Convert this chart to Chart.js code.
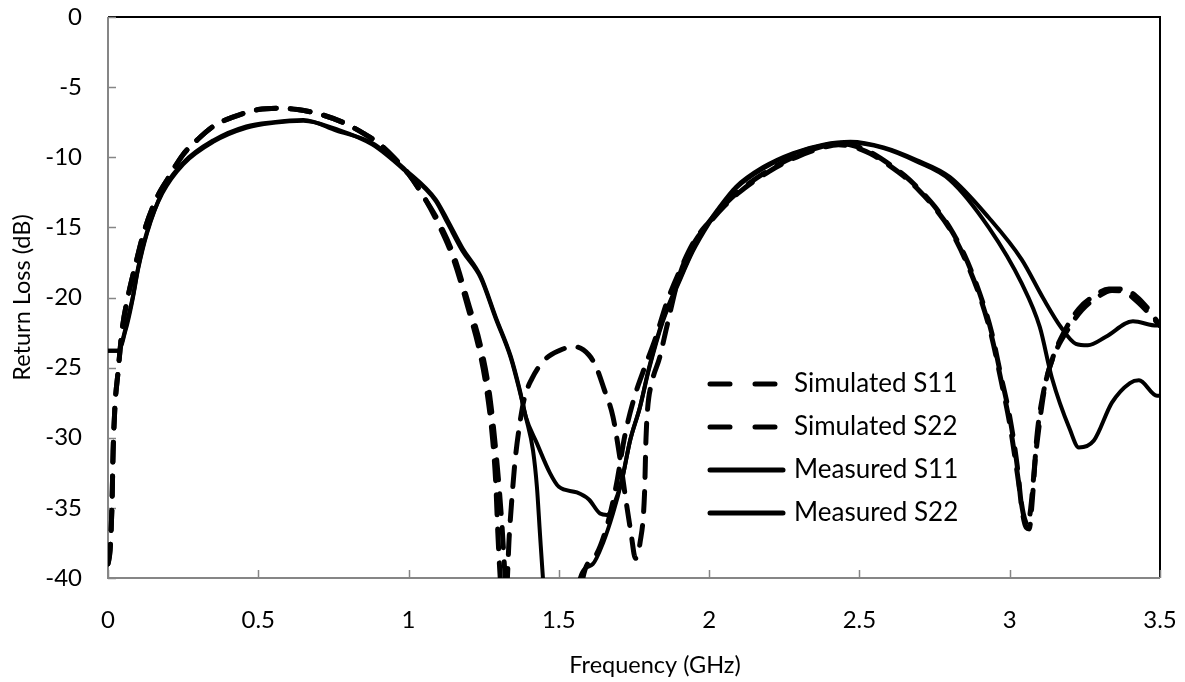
<!DOCTYPE html>
<html>
<head>
<meta charset="utf-8">
<script src="https://cdn.jsdelivr.net/npm/chart.js@4.4.1/dist/chart.umd.min.js"></script>
<style>
  html, body { margin: 0; padding: 0; background: #fff; }
  #wrap { width: 1185px; height: 682px; }
</style>
</head>
<body>
<div id="wrap"><canvas id="rlChart" width="1185" height="682"></canvas></div>
<script>
// ---------------------------- Data ----------------------------------------
const seriesLabels = ['Simulated S11', 'Simulated S22', 'Measured S11', 'Measured S22']
const xTitle = 'Frequency (GHz)'
const yTitle = 'Return Loss (dB)'
const xTicks = [0, 0.5, 1, 1.5, 2, 2.5, 3, 3.5]
const yTicks = [0, -5, -10, -15, -20, -25, -30, -35, -40]

const simS11Freq = [0, 0.007, 0.013, 0.017, 0.023, 0.033, 0.047, 0.066, 0.09, 0.12, 0.16, 0.2, 0.25, 0.3, 0.35, 0.42, 0.5, 0.57, 0.63, 0.7, 0.78, 0.85, 0.9, 0.95, 1.0, 1.05, 1.1, 1.15, 1.2, 1.24, 1.26, 1.28, 1.29, 1.297, 1.305, 1.33, 1.45, 1.55, 1.58, 1.62, 1.66, 1.69, 1.72, 1.75, 1.78, 1.82, 1.86, 1.9, 1.95, 2.0, 2.05, 2.1, 2.2, 2.3, 2.38, 2.43, 2.5, 2.55, 2.6, 2.65, 2.7, 2.75, 2.8, 2.85, 2.9, 2.94, 2.97, 3.0, 3.025, 3.04, 3.055, 3.065, 3.075, 3.09, 3.11, 3.14, 3.18, 3.23, 3.28, 3.33, 3.38, 3.42, 3.46, 3.5]
const simS11Loss = [-39, -38, -35, -31, -27.8, -25.4, -22.3, -20, -17.8, -15.3, -13, -11.5, -9.8, -8.7, -7.8, -7.1, -6.6, -6.5, -6.6, -6.9, -7.5, -8.3, -9, -10, -11.2, -12.8, -14.8, -17.3, -20.9, -24.2, -26.6, -30.2, -33.2, -36.8, -40, -46, -52, -48, -40, -38.5, -36.3, -33.5, -29.8, -27.2, -25.3, -23, -20.3, -18.2, -16, -14.6, -13.4, -12.4, -10.9, -9.8, -9.2, -9.0, -9.3, -9.8, -10.5, -11.3, -12.3, -13.5, -15, -17, -19.7, -22.5, -25.5, -28.5, -32, -35, -36.4, -36.5, -34.5, -30, -27, -24.5, -22.5, -20.8, -19.9, -19.4, -19.4, -19.9, -20.8, -22]

const simS22Freq = [0, 0.007, 0.013, 0.017, 0.023, 0.033, 0.047, 0.066, 0.09, 0.12, 0.16, 0.2, 0.25, 0.3, 0.35, 0.42, 0.5, 0.57, 0.63, 0.7, 0.78, 0.85, 0.9, 0.95, 1.0, 1.05, 1.1, 1.15, 1.2, 1.24, 1.27, 1.295, 1.31, 1.32, 1.325, 1.335, 1.345, 1.355, 1.37, 1.385, 1.41, 1.45, 1.5, 1.55, 1.6, 1.625, 1.65, 1.68, 1.7, 1.72, 1.74, 1.755, 1.77, 1.785, 1.79, 1.795, 1.81, 1.835, 1.86, 1.9, 1.95, 2.0, 2.05, 2.1, 2.2, 2.3, 2.38, 2.43, 2.5, 2.55, 2.6, 2.65, 2.7, 2.75, 2.8, 2.85, 2.9, 2.94, 2.97, 3.0, 3.025, 3.045, 3.06, 3.07, 3.085, 3.1, 3.12, 3.15, 3.19, 3.24, 3.29, 3.34, 3.38, 3.43, 3.47, 3.5]
const simS22Loss = [-39, -38, -35, -31, -27.8, -25.4, -22.3, -20, -17.8, -15.3, -13, -11.5, -9.8, -8.7, -7.8, -7.1, -6.6, -6.5, -6.6, -6.9, -7.5, -8.3, -9, -10, -11.2, -12.8, -14.6, -17, -20.5, -23.5, -27, -32, -36, -39.5, -41, -37, -34, -31.5, -29, -27.2, -25.8, -24.5, -23.8, -23.5, -24.1, -25, -26.5, -28.5, -31, -34, -36.8, -38.6, -37.5, -34, -30, -28, -26, -24.3, -22, -18.5, -16.1, -14.7, -13.5, -12.5, -11, -9.9, -9.3, -9.1, -9.4, -9.9, -10.6, -11.4, -12.4, -13.6, -15.1, -17.2, -19.9, -22.8, -25.8, -29, -32.5, -35.4, -36.2, -35, -31.5, -28.8, -26, -24, -22.4, -20.9, -20, -19.5, -19.6, -20.4, -21.3, -22]

const measS11Freq = [0, 0.035, 0.045, 0.055, 0.065, 0.083, 0.1, 0.13, 0.18, 0.25, 0.35, 0.46, 0.55, 0.65, 0.76, 0.88, 0.99, 1.09, 1.13, 1.18, 1.24, 1.29, 1.34, 1.37, 1.39, 1.427, 1.47, 1.5, 1.56, 1.6, 1.637, 1.66, 1.68, 1.71, 1.737, 1.77, 1.8, 1.846, 1.9, 1.946, 2.0, 2.026, 2.09, 2.18, 2.28, 2.38, 2.47, 2.58, 2.69, 2.8, 2.93, 3.04, 3.11, 3.17, 3.22, 3.26, 3.32, 3.41, 3.49, 3.5]
const measS11Loss = [-23.8, -23.8, -23.4, -22.6, -21.8, -20, -18, -15.4, -12.5, -10.4, -8.8, -7.8, -7.5, -7.35, -8.1, -9, -10.9, -13, -14.5, -16.5, -18.5, -21.4, -24.2, -26.6, -28.5, -30.4, -32.5, -33.5, -33.9, -34.4, -35.4, -35.5, -34.9, -33, -30.2, -27.8, -25, -21.6, -18.8, -16.6, -14.6, -13.8, -12.1, -10.7, -9.7, -9.1, -8.9, -9.3, -10.2, -11.4, -14.3, -17.3, -20, -22.1, -23.3, -23.4, -22.8, -21.7, -22, -22]

const measS22Freq = [0, 0.035, 0.045, 0.055, 0.065, 0.083, 0.1, 0.13, 0.18, 0.25, 0.35, 0.46, 0.55, 0.65, 0.76, 0.88, 0.99, 1.09, 1.13, 1.18, 1.24, 1.29, 1.34, 1.37, 1.39, 1.414, 1.427, 1.437, 1.447, 1.47, 1.51, 1.55, 1.57, 1.613, 1.647, 1.68, 1.71, 1.737, 1.77, 1.8, 1.846, 1.9, 1.946, 2.0, 2.026, 2.09, 2.18, 2.28, 2.38, 2.47, 2.58, 2.69, 2.8, 2.93, 3.04, 3.1, 3.14, 3.2, 3.23, 3.28, 3.34, 3.4, 3.43, 3.49, 3.5]
const measS22Loss = [-23.8, -23.8, -23.3, -22.5, -21.6, -19.9, -17.9, -15.3, -12.6, -10.5, -8.9, -7.9, -7.55, -7.4, -8.0, -9.1, -11, -13.1, -14.7, -16.7, -18.6, -21.5, -24.3, -26.7, -28.5, -30.9, -33.5, -36.8, -40, -46, -48, -44, -40, -39, -37.5, -35.4, -33, -30.2, -27.8, -25.1, -21.7, -18.9, -16.7, -14.7, -13.9, -12.2, -10.8, -9.75, -9.15, -8.95, -9.35, -10.3, -11.6, -15, -19, -22.1, -25.7, -29.4, -30.7, -30.2, -27.5, -26.1, -25.9, -27, -27]

// ---------------------------- Style ---------------------------------------
const fontFamily = 'Lato, "Liberation Sans", sans-serif'
const tickFont = { family: fontFamily, size: 24 }
const titleFont = { family: fontFamily, size: 23.5 }
const legendFontSize = 26
const axisGrey = '#868686'
const dashPattern = [20, 14]

const toPoints = (freq, loss) => freq.map((f, i) => ({ x: f, y: loss[i] }))

const makeSet = (label, freq, loss, dashed) => ({
  label: label,
  data: toPoints(freq, loss),
  borderColor: '#000',
  backgroundColor: '#000',
  borderWidth: dashed ? 5 : 4,
  borderDash: dashed ? dashPattern : [],
  borderCapStyle: 'round',
  borderJoinStyle: 'round',
  pointRadius: 0,
  fill: false,
  cubicInterpolationMode: 'monotone'
})

// -------------------- Frame, inward ticks, legend -------------------------
const framePlugin = {
  id: 'frame',
  beforeDatasetsDraw(chart) {
    const { ctx, chartArea: a, scales } = chart
    ctx.save()
    ctx.lineWidth = 2
    ctx.strokeStyle = '#000'
    ctx.beginPath()
    ctx.moveTo(a.left, a.top)
    ctx.lineTo(a.right, a.top)
    ctx.lineTo(a.right, a.bottom)
    ctx.stroke()

    ctx.strokeStyle = axisGrey
    ctx.beginPath()
    ctx.moveTo(a.left, a.top)
    ctx.lineTo(a.left, a.bottom)
    ctx.lineTo(a.right, a.bottom)
    ctx.stroke()

    ctx.lineWidth = 1.5
    ctx.beginPath()
    yTicks.forEach(v => {
      const y = Math.round(scales.y.getPixelForValue(v)) + 0.5
      ctx.moveTo(a.left, y)
      ctx.lineTo(a.left + 8, y)
    })
    xTicks.forEach(v => {
      const x = Math.round(scales.x.getPixelForValue(v)) + 0.5
      ctx.moveTo(x, a.bottom)
      ctx.lineTo(x, a.bottom - 8)
    })
    ctx.stroke()

    // x-axis title sits a little right of the plot centre, as in the source
    ctx.font = titleFont.size + 'px ' + fontFamily
    ctx.fillStyle = '#000'
    ctx.textAlign = 'center'
    ctx.textBaseline = 'middle'
    ctx.fillText(xTitle, (a.left + a.right) / 2 + 21, 665)
    ctx.restore()
  }
}

const legendBox = { left: 708, top: 384, rowGap: 43, lineLen: 77, textGap: 9 }

const legendPlugin = {
  id: 'sideLegend',
  afterDraw(chart) {
    const { ctx } = chart
    ctx.save()
    ctx.font = legendFontSize + 'px ' + fontFamily
    ctx.textBaseline = 'middle'
    ctx.fillStyle = '#000'
    chart.data.datasets.forEach((ds, i) => {
      const y = legendBox.top + i * legendBox.rowGap
      ctx.strokeStyle = ds.borderColor
      ctx.lineWidth = 5
      ctx.lineCap = 'round'
      ctx.setLineDash(ds.borderDash.length ? [20, 25] : [])
      ctx.beginPath()
      ctx.moveTo(legendBox.left + 2, y)
      ctx.lineTo(legendBox.left + legendBox.lineLen - 2, y)
      ctx.stroke()
      ctx.setLineDash([])
      ctx.fillText(ds.label, legendBox.left + legendBox.lineLen + legendBox.textGap, y)
    })
    ctx.restore()
  }
}

// ---------------------------- Chart ---------------------------------------
const rlChart = new Chart(document.getElementById('rlChart'), {
  type: 'line',
  data: {
    datasets: [
      makeSet(seriesLabels[0], simS11Freq, simS11Loss, true),
      makeSet(seriesLabels[1], simS22Freq, simS22Loss, true),
      makeSet(seriesLabels[2], measS11Freq, measS11Loss, false),
      makeSet(seriesLabels[3], measS22Freq, measS22Loss, false)
    ]
  },
  options: {
    responsive: false,
    animation: false,
    layout: { padding: { top: 17, right: 25, left: 0, bottom: 0 } },
    plugins: { legend: { display: false }, tooltip: { enabled: false } },
    scales: {
      x: {
        type: 'linear',
        min: 0,
        max: 3.5,
        afterBuildTicks: s => { s.ticks = xTicks.map(v => ({ value: v })) },
        afterFit: s => { s.height = 104; s.paddingLeft = 0; s.paddingRight = 0 },
        grid: { display: false, drawTicks: false },
        border: { display: false },
        ticks: { padding: 28, font: tickFont, color: '#000', maxRotation: 0, callback: v => String(v) },
        title: { display: false }
      },
      y: {
        type: 'linear',
        min: -40,
        max: 0,
        afterBuildTicks: s => { s.ticks = yTicks.map(v => ({ value: v })) },
        afterFit: s => { s.width = 108; s.paddingTop = 0; s.paddingBottom = 0 },
        grid: { display: false, drawTicks: false },
        border: { display: false },
        ticks: { padding: 26, font: tickFont, color: '#000', callback: v => String(v) },
        title: { display: true, text: yTitle, font: titleFont, color: '#000', padding: { top: 8, bottom: 0 } }
      }
    }
  },
  plugins: [framePlugin, legendPlugin]
});
</script>
</body>
</html>
